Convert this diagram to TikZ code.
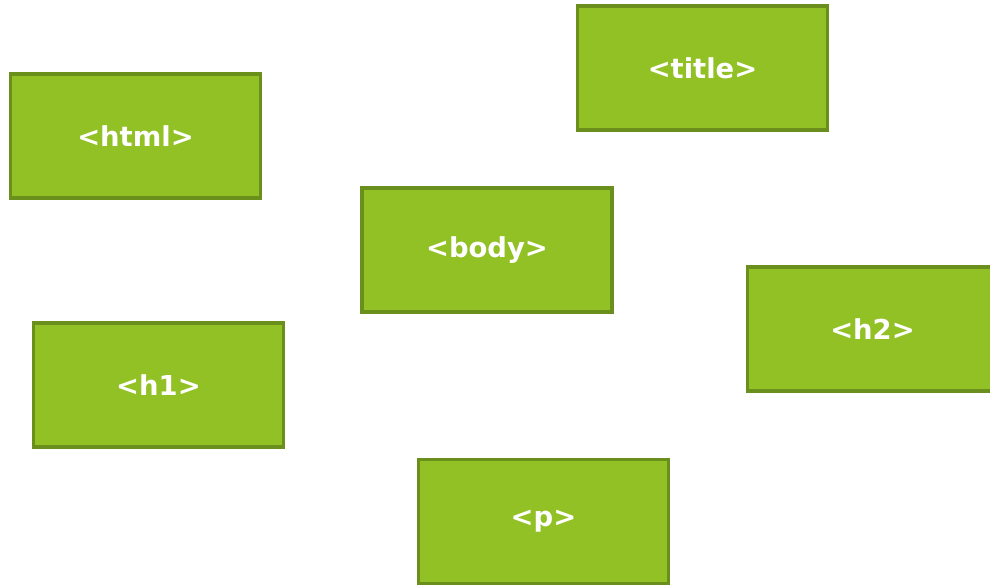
\documentclass[tikz,border=0pt]{standalone}
\usepackage{fontspec}
\setmainfont{DejaVu Sans}
\usepackage{tikz}
\definecolor{leaf}{HTML}{92C126}
\definecolor{leafdark}{HTML}{6A8F1C}
\tikzset{
  x=0.02cm,
  y=-0.02cm,
}
\tikzstyle{tagbox}=[draw=leafdark,fill=leaf,line width=2.2pt,
  minimum width=5cm,minimum height=2.48cm,inner sep=0pt,
  text=white,font=\fontsize{15.6}{18}\selectfont\bfseries]

\begin{document}
\begin{tikzpicture}
    \useasboundingbox (0,0) rectangle (990,585);
    \clip (0,0) rectangle (990,585);
    \node[tagbox] (html) at (135.5,136) {<html>};
    \node[tagbox] (title) at (702.5,68) {<title>};
    \node[tagbox] (body) at (487,250) {<body>};
    \node[tagbox] (h2) at (872.5,329) {<h2>};
    \node[tagbox] (h1) at (158.5,385) {<h1>};
    \node[tagbox] (p) at (543.5,521.5) {<p>};
  \end{tikzpicture}
\end{document}
